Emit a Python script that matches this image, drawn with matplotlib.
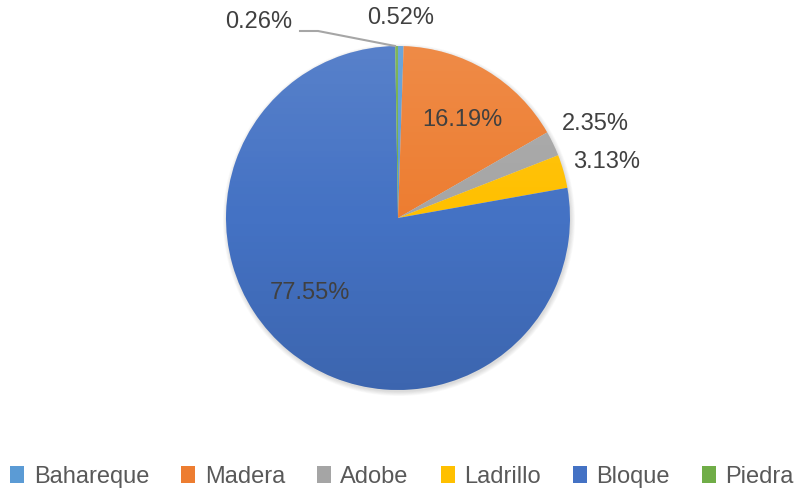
import numpy as np
import matplotlib.pyplot as plt
from matplotlib.patches import Circle

plt.rcParams['font.family'] = ['Liberation Sans', 'DejaVu Sans']

categories = ['Bahareque', 'Madera', 'Adobe', 'Ladrillo', 'Bloque', 'Piedra']
values = [0.52, 16.19, 2.35, 3.13, 77.55, 0.26]
colors = ['#5B9BD5', '#ED7D31', '#A5A5A5', '#FFC000', '#4472C4', '#70AD47']
# label positions in pixels (x, y from top)
label_pos = [(401, 18), (462, 120), (595, 124), (607, 162), (310, 293), (259, 22)]

W, H = 798, 493
fig = plt.figure(figsize=(W / 100, H / 100), dpi=100)
ax = fig.add_axes([0, 0, 1, 1])

cx, cy, r = 398, H - 218, 172

# soft shadow
for k in range(6):
    ax.add_patch(Circle((cx + 1, cy - 2), r + 4 - k * 0.8, color='#000000',
                        alpha=0.025, lw=0, zorder=0))

wedges, _ = ax.pie(values, colors=colors, startangle=90, counterclock=False,
                   center=(cx, cy), radius=r, frame=True,
                   wedgeprops=dict(linewidth=0, zorder=1))

# gentle vertical gradient (lighter on top, darker at bottom)
grad = np.linspace(0, 1, 256).reshape(-1, 1)
rgba = np.zeros((256, 1, 4))
rgba[..., :3] = np.where(grad[..., None] > 0.5, 1.0, 0.0)
rgba[..., 3] = np.abs(grad - 0.5) * 0.22
img = ax.imshow(rgba, extent=(cx - r, cx + r, cy - r, cy + r), origin='lower',
                aspect='auto', zorder=2, interpolation='bilinear')
img.set_clip_path(Circle((cx, cy), r, transform=ax.transData))

ax.set_xlim(0, W)
ax.set_ylim(0, H)
ax.set_aspect('auto')
ax.axis('off')

for v, (x, y) in zip(values, label_pos):
    ax.text(x, H - y, f'{v:.2f}%', ha='center', va='center', fontsize=17,
            color='#404040', zorder=5)

# leader line for the tiny Piedra slice
ax.plot([300, 318, 395], [H - 31, H - 31, H - 46], color='#A6A6A6', lw=1.5, zorder=4)

ax.legend(wedges, categories, loc='center', bbox_to_anchor=(402 / W, 1 - 477 / H),
          ncol=6, frameon=False, fontsize=17, handlelength=0.6,
          handleheight=0.7, handletextpad=0.4, columnspacing=1.35,
          labelcolor='#595959', borderaxespad=0)

fig.savefig('out.png', dpi=100)
